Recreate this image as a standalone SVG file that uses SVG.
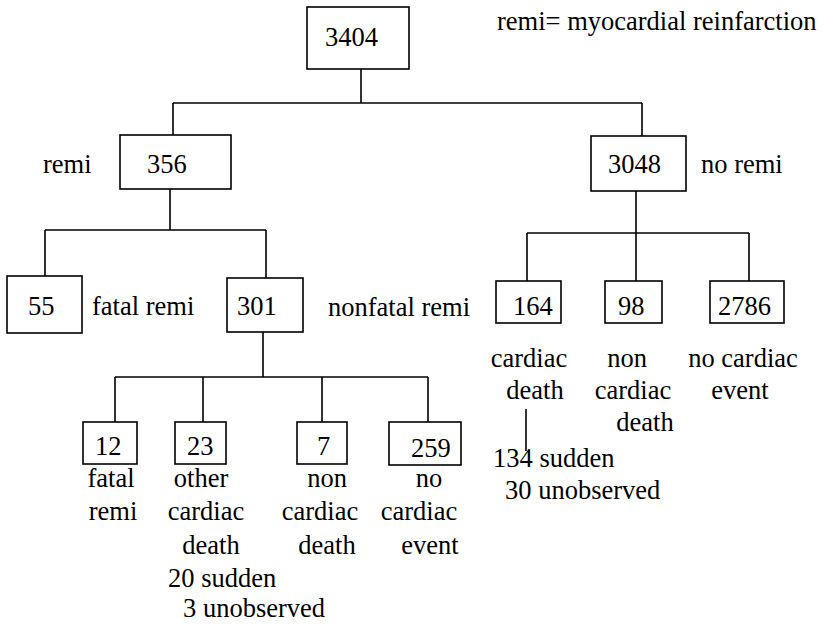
<svg xmlns="http://www.w3.org/2000/svg" width="833" height="626" viewBox="0 0 833 626">
<style>
  .box { fill: #fff; stroke: #000; stroke-width: 1.6; }
  text { font-family: "Liberation Serif", "Times New Roman", serif; font-size: 26.5px; fill: #000; }
  .m { text-anchor: middle; }
  .c { fill: none; stroke: #000; stroke-width: 1.6; }
</style>
<rect width="833" height="626" fill="#fff"/>
<g id="connectors">
  <path class="c" d="M361 69 V103 M173 103 H642 M173 103 V135 M642 103 V136"/>
  <path class="c" d="M170 189 V230 M45 230 H266 M45 230 V276 M266 230 V278"/>
  <path class="c" d="M263 332 V377 M115 377 H428 M115 377 V422 M203 377 V422 M322 377 V422 M428 377 V422"/>
  <path class="c" d="M636 191 V233 M527 233 H749 M527 233 V281 M636 233 V281 M749 233 V281"/>
  <path class="c" d="M526 409 V451"/>
</g>
<g id="legend">
  <text x="497" y="30">remi= myocardial reinfarction</text>
</g>
<g id="n3404">
  <rect class="box" x="307" y="7" width="102" height="62"/>
  <text x="325" y="46">3404</text>
</g>
<g id="n356">
  <rect class="box" x="120" y="135" width="111" height="54"/>
  <text x="147" y="173">356</text>
  <text x="43" y="173">remi</text>
</g>
<g id="n3048">
  <rect class="box" x="591" y="136" width="95" height="55"/>
  <text x="608" y="173">3048</text>
  <text x="701" y="173">no remi</text>
</g>
<g id="n55">
  <rect class="box" x="7" y="276" width="75" height="57"/>
  <text x="28" y="315">55</text>
  <text x="92" y="315">fatal remi</text>
</g>
<g id="n301">
  <rect class="box" x="227" y="278" width="76" height="54"/>
  <text x="237" y="315">301</text>
  <text x="328" y="316">nonfatal remi</text>
</g>
<g id="n164">
  <rect class="box" x="496" y="281" width="65" height="42"/>
  <text x="513" y="315">164</text>
  <text class="m" x="529" y="367">cardiac</text>
  <text class="m" x="535" y="399">death</text>
  <text x="493" y="467">134 sudden</text>
  <text x="505" y="499">30 unobserved</text>
</g>
<g id="n98">
  <rect class="box" x="605" y="281" width="57" height="42"/>
  <text x="618" y="315">98</text>
  <text class="m" x="627" y="367">non</text>
  <text class="m" x="633" y="399">cardiac</text>
  <text class="m" x="645" y="431">death</text>
</g>
<g id="n2786">
  <rect class="box" x="710" y="281" width="74" height="42"/>
  <text x="718" y="315">2786</text>
  <text class="m" x="743" y="367">no cardiac</text>
  <text class="m" x="740" y="399">event</text>
</g>
<g id="n12">
  <rect class="box" x="83" y="422" width="54" height="42"/>
  <text x="95" y="455">12</text>
  <text class="m" x="111" y="487">fatal</text>
  <text class="m" x="113" y="520">remi</text>
</g>
<g id="n23">
  <rect class="box" x="175" y="422" width="51" height="42"/>
  <text x="187" y="455">23</text>
  <text class="m" x="201" y="487">other</text>
  <text class="m" x="206" y="520">cardiac</text>
  <text class="m" x="211" y="554">death</text>
  <text x="168" y="587">20 sudden</text>
  <text x="183" y="617">3 unobserved</text>
</g>
<g id="n7">
  <rect class="box" x="297" y="422" width="50" height="42"/>
  <text x="317" y="455">7</text>
  <text class="m" x="327" y="487">non</text>
  <text class="m" x="320" y="520">cardiac</text>
  <text class="m" x="327" y="554">death</text>
</g>
<g id="n259">
  <rect class="box" x="389" y="422" width="72" height="43"/>
  <text x="411" y="457">259</text>
  <text class="m" x="429" y="487">no</text>
  <text class="m" x="419" y="520">cardiac</text>
  <text class="m" x="430" y="554">event</text>
</g>
</svg>
